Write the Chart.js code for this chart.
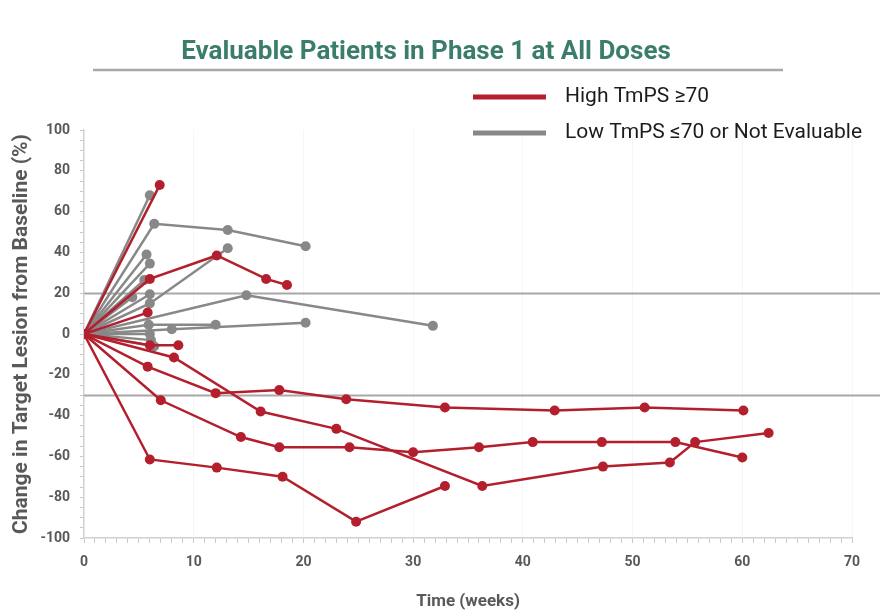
<!DOCTYPE html>
<html>
<head>
<meta charset="utf-8">
<script src="https://cdn.jsdelivr.net/npm/chart.js@4.4.0/dist/chart.umd.min.js"></script>
<style>
  html, body { margin: 0; padding: 0; background: #ffffff; }
  #wrap { width: 880px; height: 615px; }
</style>
</head>
<body>
<div id="wrap"><canvas id="c" width="880" height="615"></canvas></div>
<script>
// ---- Data (week, % change) per patient ----
const chartTitle = 'Evaluable Patients in Phase 1 at All Doses';
const xAxisTitle = 'Time (weeks)';
const yAxisTitle = 'Change in Target Lesion from Baseline (%)';
const seriesNames = ['High TmPS \u226570', 'Low TmPS \u226470 or Not Evaluable'];
const seriesColors = ['#b31f2d', '#888888'];
const xTickLabels = [0, 10, 20, 30, 40, 50, 60, 70];
const yTickLabels = [-100, -80, -60, -40, -20, 0, 20, 40, 60, 80, 100];
const refLines = [20, -30];

// High TmPS >=70 patients
const high1 = [[0, 0], [6.9, 73]];
const high2 = [[0, 0], [6, 27], [12.1, 38.5], [16.6, 27], [18.5, 24]];
const high3 = [[0, 0], [5.8, 10.5]];
const high4 = [[0, 0], [6, -5.5], [8.6, -5.5]];
const high5 = [[0, 0], [8.2, -11.5], [16.1, -38], [23, -46.5], [36.3, -74.5], [47.3, -65], [53.4, -63], [55.7, -53], [62.4, -48.5]];
const high6 = [[0, 0], [5.8, -16], [12, -29], [17.8, -27.5], [23.9, -32], [32.9, -36], [42.9, -37.5], [51.1, -36], [60.1, -37.5]];
const high7 = [[0, 0], [7, -32.5], [14.3, -50.5], [17.8, -55.5], [24.2, -55.5], [30, -58], [36, -55.5], [40.9, -53], [47.2, -53], [53.9, -53], [60, -60.5]];
const high8 = [[0, 0], [6, -61.5], [12.1, -65.5], [18.1, -70], [24.8, -92], [32.9, -74.5]];

// Low TmPS <=70 or not evaluable patients
const low1 = [[0, 0], [6, 68]];
const low2 = [[0, 0], [6.4, 54], [13.1, 51], [20.2, 43]];
const low3 = [[0, 0], [5.7, 39]];
const low4 = [[0, 0], [6, 34.5]];
const low5 = [[0, 0], [5.5, 26.5]];
const low6 = [[0, 0], [6, 15], [13.1, 42]];
const low7 = [[0, 0], [6, 19.5]];
const low8 = [[0, 0], [4.4, 18]];
const low9 = [[0, 0], [5.9, 4.5], [12, 4.5]];
const low10 = [[0, 0], [8, 2.3], [20.2, 5.5]];
const low11 = [[0, 0], [14.8, 19], [31.8, 4]];
const low12 = [[0, 0], [6, 0]];
const low13 = [[0, 0], [6.1, -3]];
const low14 = [[0, 0], [6.4, -6]];

const highSeries = [high1, high2, high3, high4, high5, high6, high7, high8];
const lowSeries = [low1, low2, low3, low4, low5, low6, low7, low8, low9, low10, low11, low12, low13, low14];

function makeDataset(pairs, color, label) {
  return {
    label: label,
    data: pairs.map(p => ({ x: p[0], y: p[1] })),
    borderColor: color,
    backgroundColor: color,
    pointBackgroundColor: color,
    pointBorderColor: color,
    pointBorderWidth: 0,
    pointRadius: 5,
    borderWidth: 2.5,
    tension: 0,
    fill: false
  };
}

// first dataset is drawn on top -> red first
const datasets = [
  ...highSeries.map(s => makeDataset(s, seriesColors[0], seriesNames[0])),
  ...lowSeries.map(s => makeDataset(s, seriesColors[1], seriesNames[1]))
];

const FONT = 'Roboto, "Liberation Sans", Arial, sans-serif';

const decorPlugin = {
  id: 'decor',
  beforeDatasetsDraw(chart) {
    const ctx = chart.ctx;
    const y = chart.scales.y;
    ctx.save();
    ctx.strokeStyle = '#a8a8a8';
    ctx.lineWidth = 2;
    refLines.forEach(v => {
      const py = Math.round(y.getPixelForValue(v)) + 0.5;
      ctx.beginPath();
      ctx.moveTo(chart.chartArea.left, py);
      ctx.lineTo(chart.width, py);
      ctx.stroke();
    });
    ctx.restore();
  },
  afterDraw(chart) {
    const ctx = chart.ctx;
    ctx.save();
    // title underline
    ctx.strokeStyle = '#a8a8a8';
    ctx.lineWidth = 2.5;
    ctx.beginPath();
    ctx.moveTo(93, 70);
    ctx.lineTo(783, 70);
    ctx.stroke();
    // legend
    const items = [{ y: 97 }, { y: 133 }];
    items.forEach((it, i) => {
      ctx.strokeStyle = seriesColors[i];
      ctx.lineWidth = 5;
      ctx.beginPath();
      ctx.moveTo(473, it.y);
      ctx.lineTo(546, it.y);
      ctx.stroke();
      ctx.fillStyle = '#1c1c1c';
      ctx.font = '21px ' + FONT;
      ctx.textAlign = 'left';
      ctx.textBaseline = 'middle';
      ctx.fillText(seriesNames[i], 565, it.y);
    });
    ctx.restore();
  }
};

new Chart(document.getElementById('c'), {
  type: 'line',
  data: { datasets: datasets },
  plugins: [decorPlugin],
  options: {
    responsive: false,
    animation: false,
    devicePixelRatio: 1,
    layout: { padding: { left: 0, right: 28, top: 0, bottom: 0 } },
    plugins: {
      legend: { display: false },
      tooltip: { enabled: false },
      title: {
        display: true,
        text: chartTitle,
        color: '#3b7d6c',
        font: { family: FONT, size: 26, weight: 'bold', lineHeight: 1.2 },
        padding: { top: 36.4, bottom: 62.4 }
      }
    },
    scales: {
      x: {
        type: 'linear',
        min: 0,
        max: 70,
        afterFit(scale) { scale.height = 77; },
        border: { display: true, color: '#d0d0d0', width: 1.5 },
        grid: {
          drawOnChartArea: true,
          color: c => (c.tick && c.tick.value % 10 === 0 && c.tick.value > 0) ? 'rgba(0,0,0,0.035)' : 'rgba(0,0,0,0)',
          tickColor: '#c8c8c8',
          tickLength: 5
        },
        ticks: {
          stepSize: 1,
          autoSkip: false,
          maxRotation: 0,
          padding: 11,
          color: '#595959',
          font: { family: FONT, size: 14, weight: 'bold' },
          callback: v => xTickLabels.includes(v) ? String(v) : ''
        },
        title: {
          display: true,
          text: xAxisTitle,
          color: '#595959',
          font: { family: FONT, size: 17, weight: 'bold', lineHeight: 1.2 },
          padding: { top: 0, bottom: 3 }
        }
      },
      y: {
        min: -100,
        max: 100,
        afterFit(scale) { scale.width = 84; },
        border: { display: true, color: '#d0d0d0', width: 1.5 },
        grid: {
          drawOnChartArea: false,
          tickColor: '#c8c8c8',
          tickLength: 4
        },
        ticks: {
          stepSize: 5,
          autoSkip: false,
          padding: 10,
          color: '#595959',
          font: { family: FONT, size: 14, weight: 'bold' },
          callback: v => yTickLabels.includes(v) ? String(v) : ''
        },
        title: {
          display: true,
          text: yAxisTitle,
          color: '#595959',
          font: { family: FONT, size: 21, weight: 'bold', lineHeight: 1.2 },
          padding: { top: 9, bottom: 0 }
        }
      }
    }
  }
});
</script>
</body>
</html>
